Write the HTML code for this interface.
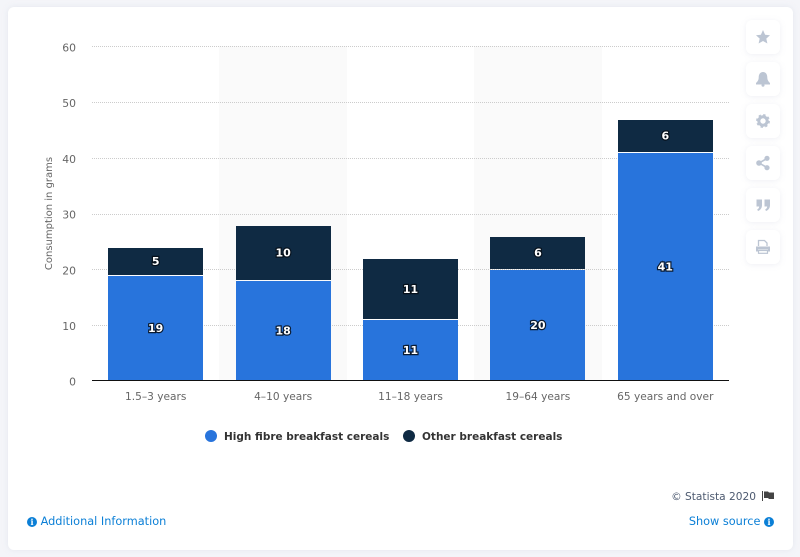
<!DOCTYPE html>
<html>
<head>
<meta charset="utf-8">
<style>
html,body{margin:0;padding:0;width:800px;height:557px;overflow:hidden;background:#f4f5f9;font-family:"DejaVu Sans","Liberation Sans",sans-serif;}
#card{position:absolute;left:8px;top:7px;width:785px;height:543px;background:#fff;border-radius:6px;box-shadow:0 0 6px rgba(200,205,220,.35);}
.btn{position:absolute;left:746px;width:34px;height:34px;background:#fff;border-radius:6px;box-shadow:0 1px 6px rgba(190,197,215,.25);}
.btn svg{position:absolute;left:0;top:0;width:34px;height:34px;}
.foot{position:absolute;font-size:11.3px;white-space:nowrap;line-height:14px;}
.link{color:#0b7fd6;}
.dot{position:absolute;width:12px;height:12px;border-radius:50%;}
.info{display:inline-block;width:10px;height:10px;border-radius:50%;background:#0b7fd6;color:#fff;font:bold 8px/10px "DejaVu Serif","Liberation Serif",serif;text-align:center;vertical-align:0;}
#chart{position:absolute;left:0;top:0;}
</style>
</head>
<body>
<div id="card"></div>
<svg id="chart" width="800" height="557"></svg>

<div class="btn" style="top:20px"><svg viewBox="0 0 34 34"><polygon points="17,10 19.100,14.800 24,15.300 20.300,18.600 21.400,23.500 17,21 12.600,23.500 13.700,18.600 10,15.300 14.900,14.800" fill="#bcc5d3"/></svg></div>
<div class="btn" style="top:62px"><svg viewBox="0 0 34 34"><path d="M17 10c3 0 4.300 2.500 4.300 5.500 0 3 1.700 4.500 2.700 5.500v1.500H10V21c1-1 2.700-2.500 2.700-5.500S14 10 17 10z" fill="#bcc5d3"/><circle cx="17" cy="23.200" r="1.500" fill="#bcc5d3"/></svg></div>
<div class="btn" style="top:104px"><svg viewBox="0 0 34 34"><circle cx="17" cy="17" r="4.200" fill="none" stroke="#bcc5d3" stroke-width="3"/><circle cx="17" cy="17" r="6" fill="none" stroke="#bcc5d3" stroke-width="1.800" stroke-dasharray="2.400 2.310"/></svg></div>
<div class="btn" style="top:146px"><svg viewBox="0 0 34 34"><path d="M13 17L21 12.500M13 17L21 21.500" stroke="#bcc5d3" stroke-width="1.600"/><circle cx="13" cy="17" r="2.800" fill="#bcc5d3"/><circle cx="21" cy="12.300" r="2.600" fill="#bcc5d3"/><circle cx="21" cy="21.700" r="2.600" fill="#bcc5d3"/></svg></div>
<div class="btn" style="top:188px"><svg viewBox="0 0 34 34"><path d="M10.500 11.500h5.500v5.500c0 3-1.500 5-4 6l-.8-1.500c1.300-.7 2-1.700 2-3h-2.700zM18.500 11.500h5.500v5.500c0 3-1.500 5-4 6l-.8-1.500c1.300-.7 2-1.700 2-3h-2.700z" fill="#bcc5d3"/></svg></div>
<div class="btn" style="top:230px"><svg viewBox="0 0 34 34"><path d="M12.500 16v-5.500h6l2.500 2.500V16" fill="none" stroke="#bcc5d3" stroke-width="1.300"/><path d="M10 16.500h14v5h-2v-2h-10v2h-2z" fill="#bcc5d3"/><rect x="12.500" y="20.500" width="9" height="2.800" fill="none" stroke="#bcc5d3" stroke-width="1.200"/></svg></div>

<div class="dot" style="left:205px;top:430px;background:#2874dc"></div>
<div class="foot" style="left:224px;top:430px;font-size:10.5px;font-weight:bold;color:#333">High fibre breakfast cereals</div>
<div class="dot" style="left:403px;top:430px;background:#0f2a43"></div>
<div class="foot" style="left:422px;top:430px;font-size:10.5px;font-weight:bold;color:#333">Other breakfast cereals</div>

<div class="foot" style="right:44px;top:490px;font-size:10.6px;color:#4d5a70">© Statista 2020</div>
<svg style="position:absolute;left:762px;top:490px" width="13" height="12" viewBox="0 0 13 12"><rect x="0" y="1" width="1" height="10" fill="#444"/><path d="M2 1.500h4l1 1h5v6.500H7l-1-1H2z" fill="#444"/></svg>
<div class="foot link" style="left:27px;top:515px"><span class="info">i</span> Additional Information</div>
<div class="foot link" style="right:26px;top:515px">Show source <span class="info">i</span></div>

<script>
var categories = ["1.5–3 years","4–10 years","11–18 years","19–64 years","65 years and over"];
var highFibre = [19,18,11,20,41];
var otherCereals = [5,10,11,6,6];
var yTicks = [0,10,20,30,40,50,60];
var yAxisTitle = "Consumption in grams";

var svg = document.getElementById('chart');
var NS = 'http://www.w3.org/2000/svg';
function mk(tag, attrs, parent){
  var e = document.createElementNS(NS, tag);
  for (var k in attrs) e.setAttribute(k, attrs[k]);
  (parent || svg).appendChild(e);
  return e;
}
var plotLeft = 92, plotRight = 729, plotBase = 380.7, plotTop = 46.4;
var yMax = yTicks[yTicks.length - 1];
function yScale(v){ return plotBase - v / yMax * (plotBase - plotTop); }
function yPix(v){ return Math.round(yScale(v)); }
function bandStart(i){ return plotLeft + i * (plotRight - plotLeft) / categories.length; }
function bandWidth(){ return (plotRight - plotLeft) / categories.length; }
function xCenter(i){ return bandStart(i) + bandWidth() / 2; }
var barWidth = 95;

categories.forEach(function(c, i){
  if (i % 2 === 1) {
    var band = mk('rect', {x: Math.round(bandStart(i)), y: yPix(yMax), width: Math.ceil(bandWidth()), height: yPix(0) - yPix(yMax), fill: '#fafafa'});
    
    
  }
});

yTicks.forEach(function(t){
  if (t !== 0) {
    var gy = yPix(t) + 0.5;
    var g = mk('line', {x1: plotLeft, x2: plotRight, y1: gy, y2: gy, stroke: '#cccccc', 'stroke-width': 1, 'stroke-dasharray': '1 1'});
    
    
  }
  var l = mk('text', {x: 76, y: yScale(t) + 5, 'text-anchor': 'end', 'font-size': 10.8, fill: '#666'});
  l.textContent = t;
  
  
});

var yTitle = mk('text', {transform: 'translate(52,213.500) rotate(-90)', 'text-anchor': 'middle', 'font-size': 10, fill: '#666'});
yTitle.textContent = yAxisTitle;



function valueLabel(v, x, y){
  var t = mk('text', {x: x, y: y + 4, 'text-anchor': 'middle', 'font-size': 11, 'font-weight': 'bold', fill: '#fff', stroke: '#050c14', 'stroke-width': 2.4, 'stroke-opacity': 0.85, 'paint-order': 'stroke'});
  t.textContent = v;
  
  
}

categories.forEach(function(c, i){
  var x = Math.round(xCenter(i) - barWidth / 2);
  var h = highFibre[i], o = otherCereals[i];
  var barA = mk('rect', {x: x, y: yPix(h) + 1, width: barWidth, height: yPix(0) - yPix(h) - 1, fill: '#2874dc'});
  
  
  var barB = mk('rect', {x: x, y: yPix(h + o) + 1, width: barWidth, height: yPix(h) - yPix(h + o) - 1, fill: '#0f2a43'});
  
  
  valueLabel(h, xCenter(i), yScale(h / 2));
  valueLabel(o, xCenter(i), yScale(h + o / 2));
  var lab = mk('text', {x: xCenter(i), y: 400, 'text-anchor': 'middle', 'font-size': 10.6, fill: '#666'});
  lab.textContent = c;
  
  
});

var axisY = yPix(0) + 0.5;
var axis = mk('line', {x1: plotLeft, x2: plotRight, y1: axisY - 1, y2: axisY - 1, stroke: '#111', 'stroke-width': 1});


</script>
</body>
</html>
